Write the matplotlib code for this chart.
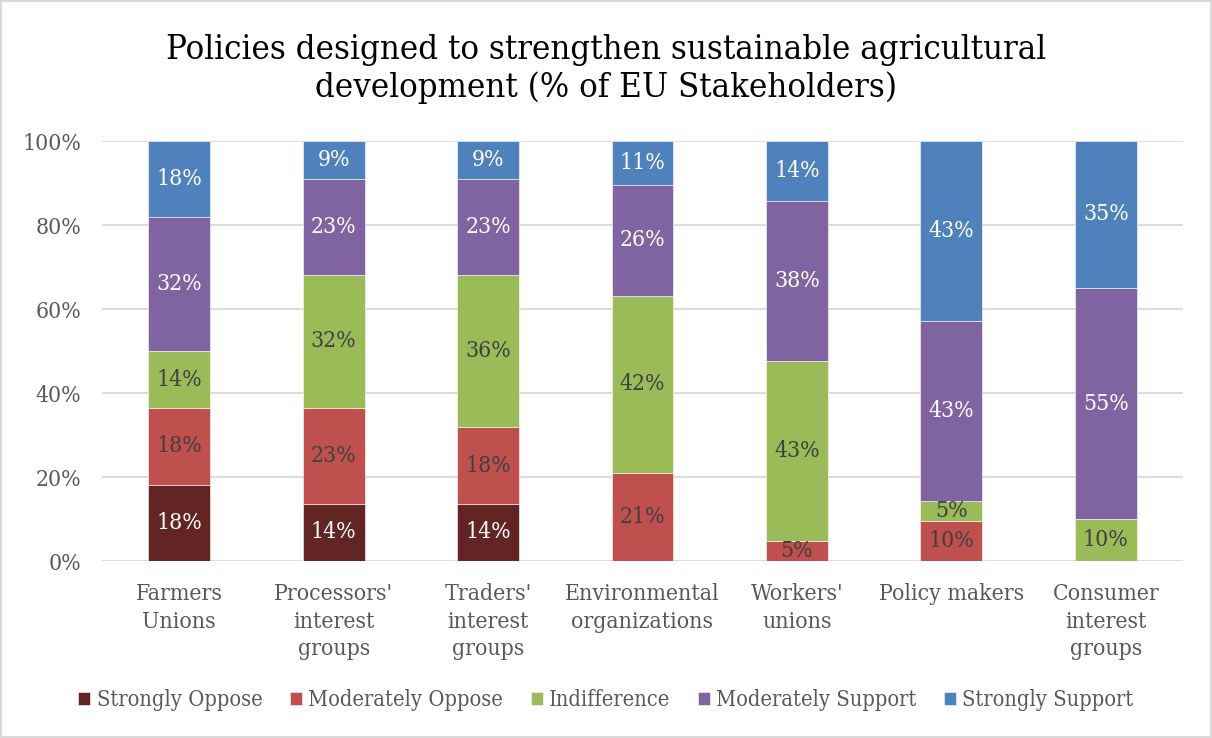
import matplotlib
matplotlib.use("Agg")
import matplotlib.pyplot as plt
from matplotlib.patches import Rectangle
import numpy as np

categories = ["Farmers\nUnions", "Processors'\ninterest\ngroups", "Traders'\ninterest\ngroups",
              "Environmental\norganizations", "Workers'\nunions", "Policy makers",
              "Consumer\ninterest\ngroups"]
series_names = ["Strongly Oppose", "Moderately Oppose", "Indifference",
                "Moderately Support", "Strongly Support"]
strongly_oppose = [18.18, 13.64, 13.64, 0, 0, 0, 0]
moderately_oppose = [18.18, 22.73, 18.18, 21.05, 4.76, 9.52, 0]
indifference = [13.64, 31.82, 36.36, 42.11, 42.86, 4.76, 10.0]
moderately_support = [31.82, 22.73, 22.73, 26.32, 38.10, 42.86, 55.0]
strongly_support = [18.18, 9.09, 9.09, 10.53, 14.29, 42.86, 35.0]
y_ticks = [0, 20, 40, 60, 80, 100]

series = [strongly_oppose, moderately_oppose, indifference, moderately_support, strongly_support]
colors = ["#632523", "#C0504D", "#9BBB59", "#8064A2", "#4F81BD"]
label_colors = ["white", "#404040", "#404040", "white", "white"]

plt.rcParams["font.family"] = "DejaVu Serif"
plt.rcParams["font.stretch"] = "condensed"

fig = plt.figure(figsize=(12.12, 7.38), dpi=100)
ax = fig.add_axes([102 / 1212, 1 - 561 / 738, (1183 - 102) / 1212, 420 / 738])

x = np.arange(len(categories))
bottom = np.zeros(len(categories))
for name, vals, col, lc in zip(series_names, series, colors, label_colors):
    vals = np.array(vals, dtype=float)
    ax.bar(x, vals, 0.4, bottom=bottom, color=col, label=name,
           edgecolor="white", linewidth=0.4, zorder=3)
    for xi, v, b in zip(x, vals, bottom):
        if v > 0:
            ax.text(xi, b + v / 2, f"{v:.0f}%", ha="center", va="center",
                    color=lc, fontsize=16.5, zorder=4)
    bottom += vals

ax.set_xlim(-0.5, len(categories) - 0.5)
ax.set_ylim(0, 100)
ax.set_yticks(y_ticks)
ax.set_yticklabels([f"{t}%" for t in y_ticks])
ax.yaxis.grid(True, color="#D9D9D9", linewidth=1.3, zorder=0)
ax.set_axisbelow(True)
for s in ax.spines.values():
    s.set_visible(False)
ax.tick_params(axis="both", length=0, labelsize=16.5, labelcolor="#595959")
ax.tick_params(axis="y", pad=15)
ax.tick_params(axis="x", pad=16)
ax.set_xticks(x)
ax.set_xticklabels(categories, linespacing=1.32)

fig.text(0.5, 1 - 69 / 738, "Policies designed to strengthen sustainable agricultural\ndevelopment (% of EU Stakeholders)",
         ha="center", va="center", fontsize=24.8, color="black", linespacing=1.22)

fig.legend(loc="center", bbox_to_anchor=(0.5, 1 - 700 / 738), ncol=5, frameon=False,
           fontsize=15.7, handlelength=0.55, handleheight=0.55, handletextpad=0.3,
           columnspacing=1.25, labelcolor="#595959")

fig.patches.append(Rectangle((0.001, 0.001), 0.998, 0.998, transform=fig.transFigure,
                             fill=False, edgecolor="#D9D9D9", linewidth=1.5))

fig.savefig("out.png", dpi=100)
